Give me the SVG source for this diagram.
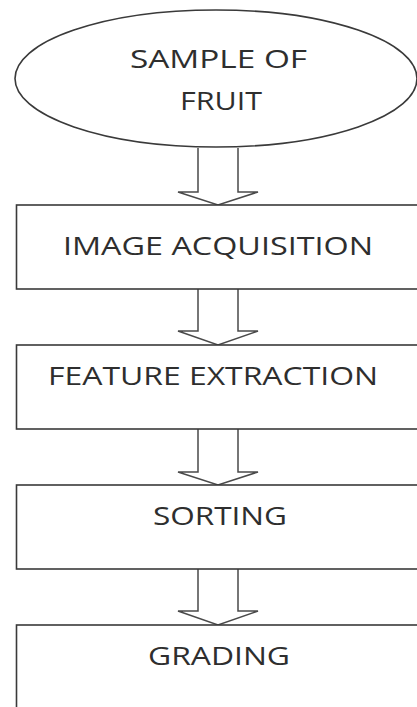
<svg xmlns="http://www.w3.org/2000/svg" width="417" height="707" viewBox="0 0 417 707">
<style>
.shape{fill:#fff;stroke:#3a3a3a;stroke-width:1.6}
.arrow{fill:#fff;stroke:#4a4a4a;stroke-width:1.5;stroke-linejoin:miter}
.lbl{font-family:"Open Sans","Liberation Sans",sans-serif;font-size:26px;fill:#2e2e2e;text-anchor:start}
</style>
<rect width="417" height="707" fill="#fff"/>
<g id="connectors">
<path class="arrow" d="M198,148 V192 H178 L218,205 L258,192 H238 V148"/>
<path class="arrow" d="M198,289 V331 H178 L218,345 L258,331 H238 V289"/>
<path class="arrow" d="M198,429 V472 H178 L218,485 L258,472 H238 V429"/>
<path class="arrow" d="M198,569 V611 H178 L218,625 L258,611 H238 V569"/>
</g>
<g id="sample">
<ellipse class="shape" cx="216" cy="78.5" rx="201" ry="68.5"/>
<text class="lbl" x="130" y="68" textLength="177" lengthAdjust="spacingAndGlyphs">SAMPLE OF</text>
<text class="lbl" x="180" y="110" textLength="82" lengthAdjust="spacingAndGlyphs">FRUIT</text>
</g>
<g id="acquisition">
<rect class="shape" x="16.5" y="205" width="410" height="84"/>
<text class="lbl" x="63" y="255" textLength="310" lengthAdjust="spacingAndGlyphs">IMAGE ACQUISITION</text>
</g>
<g id="extraction">
<rect class="shape" x="16.5" y="345" width="410" height="84"/>
<text class="lbl" x="48" y="385" textLength="330" lengthAdjust="spacingAndGlyphs">FEATURE EXTRACTION</text>
</g>
<g id="sorting">
<rect class="shape" x="16.5" y="485" width="410" height="84"/>
<text class="lbl" x="153" y="525" textLength="134" lengthAdjust="spacingAndGlyphs">SORTING</text>
</g>
<g id="grading">
<rect class="shape" x="16.5" y="625" width="410" height="100"/>
<text class="lbl" x="148" y="665" textLength="142" lengthAdjust="spacingAndGlyphs">GRADING</text>
</g>
</svg>
